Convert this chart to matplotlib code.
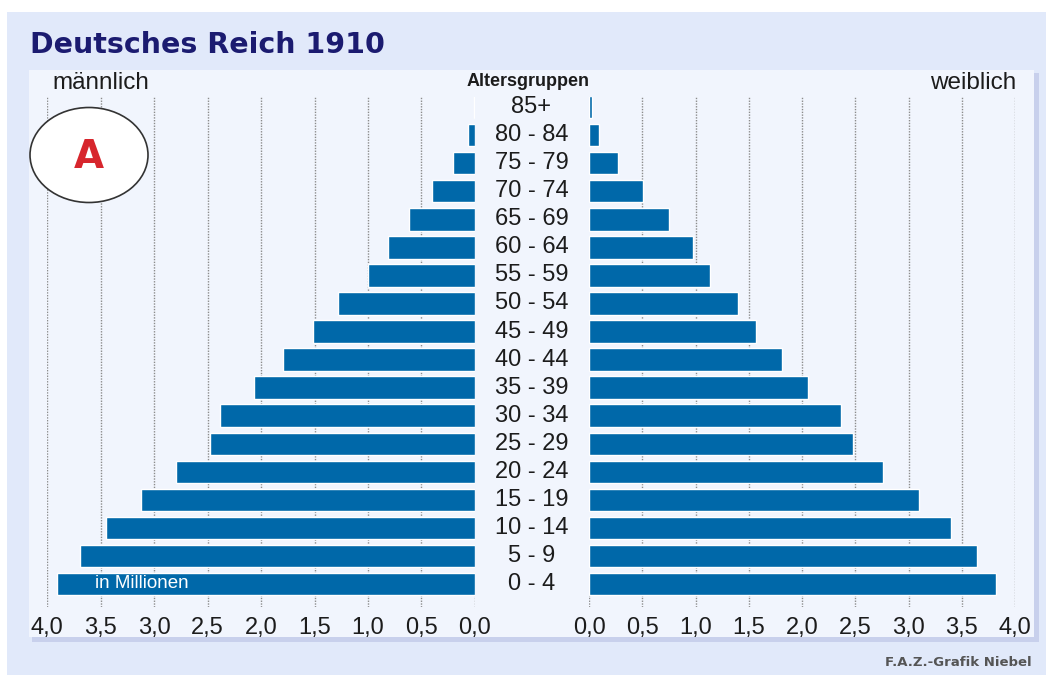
import matplotlib.pyplot as plt
from matplotlib.patches import Rectangle, Ellipse
import numpy as np

# data (millions)
age_groups = ['0 - 4', '5 - 9', '10 - 14', '15 - 19', '20 - 24', '25 - 29',
              '30 - 34', '35 - 39', '40 - 44', '45 - 49', '50 - 54', '55 - 59',
              '60 - 64', '65 - 69', '70 - 74', '75 - 79', '80 - 84', '85+']
male = [3.91, 3.69, 3.45, 3.12, 2.79, 2.48, 2.38, 2.07, 1.79, 1.51,
        1.28, 1.00, 0.81, 0.62, 0.40, 0.21, 0.07, 0.01]
female = [3.82, 3.64, 3.40, 3.10, 2.76, 2.48, 2.37, 2.06, 1.81, 1.57,
          1.40, 1.14, 0.98, 0.75, 0.51, 0.27, 0.09, 0.03]
ticks = [0.0, 0.5, 1.0, 1.5, 2.0, 2.5, 3.0, 3.5, 4.0]
tick_labels = ['0,0', '0,5', '1,0', '1,5', '2,0', '2,5', '3,0', '3,5', '4,0']

W, H = 1046, 675
BAR = '#0068A9'
TXT = '#1c1c1c'


def box(x0, y0, x1, y1):
    # pixel box (top-left origin) -> figure fraction rect
    return [x0 / W, 1 - y1 / H, (x1 - x0) / W, (y1 - y0) / H]


fig = plt.figure(figsize=(W / 100, H / 100), dpi=100)
fig.patch.set_facecolor('white')

# backgrounds
for (x0, y0, x1, y1), c in (((7, 12, W, H), '#E1E9FA'),
                            ((32, 73, 1039, 642), '#C8D0EC'),
                            ((29, 70, 1034, 637), '#F1F5FD')):
    r = box(x0, y0, x1, y1)
    fig.patches.append(Rectangle(r[:2], r[2], r[3], transform=fig.transFigure,
                                 facecolor=c, edgecolor='none', zorder=-5))

y = np.arange(len(age_groups))
ylim = (-0.82, 17.36)

axl = fig.add_axes(box(47, 97, 475, 607))
axr = fig.add_axes(box(589, 97, 1015, 607))

for ax, vals in ((axl, male), (axr, female)):
    ax.set_facecolor('none')
    ax.barh(y, vals, height=0.8, color=BAR, edgecolor='white',
            linewidth=1.0, zorder=3)
    ax.set_ylim(*ylim)
    ax.set_xticks(ticks)
    ax.set_xticklabels(tick_labels, fontsize=17, color=TXT,
                       family='Liberation Sans')
    ax.tick_params(axis='x', length=0, pad=7)
    ax.set_yticks([])
    for s in ax.spines.values():
        s.set_visible(False)
    for t in ticks[1:]:
        ax.axvline(t, color='#8c8c8c', linestyle=(0, (1, 1)),
                   linewidth=1.0, zorder=1)
    ax.axvline(0, 0, 0.025, color='#8c8c8c', linestyle=(0, (1, 1)),
               linewidth=1.0, zorder=1)

axl.set_xlim(4.0, 0.0)
axr.set_xlim(0.0, 4.0)

# age labels in the middle
for i, lab in enumerate(age_groups):
    axr.text(-0.54, i, lab, ha='center', va='center', fontsize=17,
             color=TXT, family='Liberation Sans', clip_on=False)

axl.text(3.55, 0, 'in Millionen', ha='left', va='center', fontsize=13.5,
         color='white', family='Liberation Sans', zorder=5)

# titles and labels
fig.text(30 / W, 1 - 45 / H, 'Deutsches Reich 1910', ha='left', va='center',
         fontsize=20.5, fontweight='bold', color='#1B1B70', family='DejaVu Sans')
fig.text(52 / W, 1 - 83 / H, 'männlich', ha='left', va='center',
         fontsize=17.5, color=TXT, family='Liberation Sans')
fig.text(1016 / W, 1 - 83 / H, 'weiblich', ha='right', va='center',
         fontsize=17.5, color=TXT, family='Liberation Sans')
fig.text(528 / W, 1 - 81 / H, 'Altersgruppen', ha='center', va='center',
         fontsize=13, fontweight='bold', color=TXT, family='Liberation Sans')
fig.text(1032 / W, 1 - 663 / H, 'F.A.Z.-Grafik Niebel', ha='right',
         va='center', fontsize=9.5, fontweight='bold', color='#555555',
         family='DejaVu Sans')

# "A" badge
ell = Ellipse((89 / W, 1 - 155 / H), 118 / W, 95 / H, transform=fig.transFigure,
              facecolor='white', edgecolor='#333333', linewidth=1.2, zorder=4)
fig.patches.append(ell)
fig.text(89 / W, 1 - 157 / H, 'A', ha='center', va='center', fontsize=28,
         fontweight='bold', color='#D7262D', family='DejaVu Sans', zorder=5)

fig.savefig('out.png', dpi=100)
